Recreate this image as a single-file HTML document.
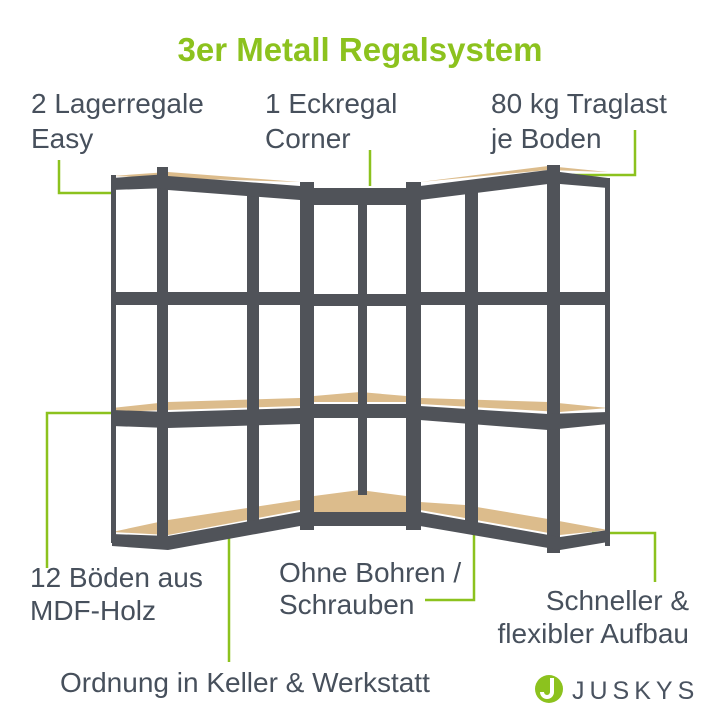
<!DOCTYPE html>
<html><head><meta charset="utf-8"><style>
html,body{margin:0;padding:0;background:#fff;}
svg{display:block}
text{font-family:"Liberation Sans",sans-serif;fill:#47505c;font-size:28px}
</style></head><body>
<svg width="720" height="720" viewBox="0 0 720 720">
<text x="360" y="61" text-anchor="middle" style="fill:#8cc21e;font-weight:bold;font-size:33px">3er Metall Regalsystem</text>
<text x="31" y="113">2 Lagerregale</text>
<text x="31" y="148">Easy</text>
<text x="265" y="113">1 Eckregal</text>
<text x="265" y="148">Corner</text>
<text x="491" y="113">80 kg Traglast</text>
<text x="491" y="148">je Boden</text>
<text x="30" y="587">12 Böden aus</text>
<text x="30" y="620">MDF-Holz</text>
<text x="279" y="582">Ohne Bohren /</text>
<text x="279" y="614">Schrauben</text>
<text x="689" y="610" text-anchor="end">Schneller &amp;</text>
<text x="689" y="643" text-anchor="end">flexibler Aufbau</text>
<text x="60" y="692">Ordnung in Keller &amp; Werkstatt</text>
<g stroke="#8cc21e" stroke-width="2.5" fill="none">
<polyline points="59,160 59,193 112,193"/>
<line x1="370" y1="150" x2="370" y2="186"/>
<polyline points="635,130 635,175 573,175"/>
<polyline points="47,568 47,413 130,413"/>
<line x1="229" y1="528" x2="229" y2="662"/>
<polyline points="425,600 474,600 474,528"/>
<polyline points="592,533 655,533 655,582"/>
</g>
<g fill="#dcbc8c">
<polygon points="112,408 168,402 300,398 300,406 168,410 115,412"/>
<polygon points="314,396 360,392 406,396 406,402 314,402"/>
<polygon points="420,398 548,402 608,408 560,412 420,404"/>
<polygon points="112,532 168,520 300,500 300,510 168,535"/>
<polygon points="314,496 360,490 406,496 406,512 314,512"/>
<polygon points="420,502 465,505 548,519 608,530 560,535 420,510"/>
<polygon points="112,176 168,172 300,182 168,178"/>
<polygon points="420,182 548,166 608,172 548,170"/>
<polygon points="314,192 406,192 370,198 350,198"/>
</g>
<g fill="#505359">
<rect x="111" y="175" width="5" height="368"/>
<rect x="157" y="167" width="11" height="382"/>
<rect x="247" y="192" width="12" height="340"/>
<rect x="300" y="182" width="14" height="348"/>
<rect x="358" y="205" width="9" height="290"/>
<rect x="406" y="182" width="15" height="348"/>
<rect x="465" y="192" width="13" height="340"/>
<rect x="547" y="165" width="13" height="388"/>
<rect x="605" y="178" width="5" height="368"/>
<polygon points="112,178 168,174 168,188 112,190"/>
<polygon points="168,176 300,186 300,200 168,190"/>
<polygon points="314,188 406,188 406,205 314,205"/>
<polygon points="420,186 548,170 548,184 420,200"/>
<polygon points="560,172 608,178 608,188 560,184"/>
<rect x="112" y="292" width="188" height="13"/>
<rect x="314" y="294" width="92" height="12"/>
<rect x="420" y="292" width="188" height="13"/>
<polygon points="112,410 168,412 300,408 300,424 168,428 112,426"/>
<rect x="314" y="404" width="92" height="14"/>
<polygon points="420,406 548,414 608,412 608,424 548,430 420,420"/>
<polygon points="112,534 168,536 300,512 300,526 168,550 112,546"/>
<rect x="314" y="512" width="92" height="14"/>
<polygon points="420,512 560,537 608,530 608,542 560,550 420,526"/>
</g>
<circle cx="549" cy="689" r="14" fill="#8cc21e"/>
<path d="M552,678 v14 a5,5 0 0 1 -10,0" stroke="#fff" stroke-width="4" fill="none"/>
<text x="572" y="699" style="fill:#4a5360;font-size:25px;letter-spacing:5px">JUSKYS</text>
</svg>
</body></html>
